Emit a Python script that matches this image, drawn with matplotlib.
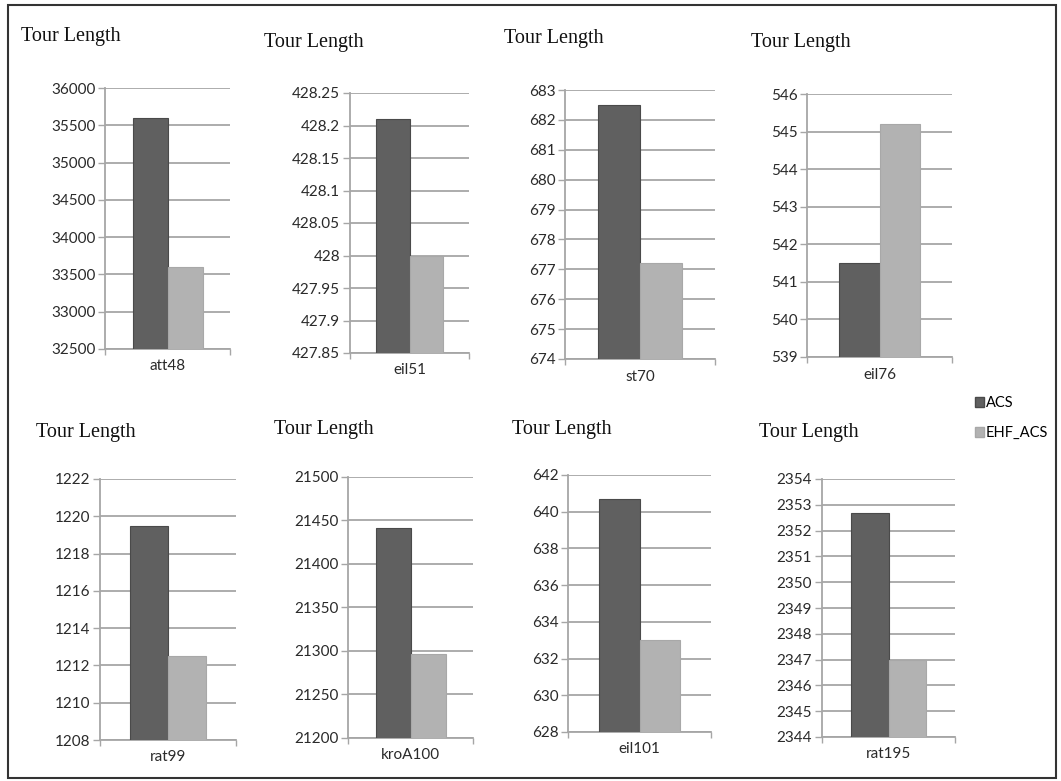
import matplotlib.pyplot as plt
from matplotlib.patches import Rectangle, Patch
from matplotlib.ticker import FixedLocator, FixedFormatter


# -----------------------------
# DATA
# -----------------------------
instances = ["att48", "eil51", "st70", "eil76", "rat99", "kroA100", "eil101", "rat195"]
acs_vals = [35600, 428.21, 682.5, 541.5, 1219.5, 21441, 640.7, 2352.7]
ehf_vals = [33600, 428.0, 677.2, 545.2, 1212.5, 21297, 633.0, 2347.0]
series_names = ["ACS", "EHF_ACS"]

ytick_vals = [
    [32500, 33000, 33500, 34000, 34500, 35000, 35500, 36000],
    [427.85, 427.9, 427.95, 428, 428.05, 428.1, 428.15, 428.2, 428.25],
    [674, 675, 676, 677, 678, 679, 680, 681, 682, 683],
    [539, 540, 541, 542, 543, 544, 545, 546],
    [1208, 1210, 1212, 1214, 1216, 1218, 1220, 1222],
    [21200, 21250, 21300, 21350, 21400, 21450, 21500],
    [628, 630, 632, 634, 636, 638, 640, 642],
    [2344, 2345, 2346, 2347, 2348, 2349, 2350, 2351, 2352, 2353, 2354],
]
ytick_labels = [
    ["32500", "33000", "33500", "34000", "34500", "35000", "35500", "36000"],
    ["427.85", "427.9", "427.95", "428", "428.05", "428.1", "428.15", "428.2", "428.25"],
    ["674", "675", "676", "677", "678", "679", "680", "681", "682", "683"],
    ["539", "540", "541", "542", "543", "544", "545", "546"],
    ["1208", "1210", "1212", "1214", "1216", "1218", "1220", "1222"],
    ["21200", "21250", "21300", "21350", "21400", "21450", "21500"],
    ["628", "630", "632", "634", "636", "638", "640", "642"],
    ["2344", "2345", "2346", "2347", "2348", "2349", "2350", "2351", "2352", "2353", "2354"],
]


# -----------------------------
# LAYOUT (pixel boxes: left, top, right, bottom; title x, y)
# -----------------------------
W, H = 1061, 781
boxes = [
    (105, 88, 230, 349), (350, 93, 469, 353), (565, 90, 715, 359), (807, 94, 952, 357),
    (100, 479, 236, 740), (348, 477, 473, 738), (568, 475, 711, 732), (822, 479, 955, 737),
]
title_pos = [(21, 36), (264, 42), (504, 38), (751, 43),
             (36, 432), (274, 430), (512, 430), (759, 432)]

col_acs = "#606060"
col_ehf = "#b2b2b2"
grid_col = "#a6a6a6"
txt_col = "#2a2a2a"

fig = plt.figure(figsize=(W / 100, H / 100), dpi=100)

for i, name in enumerate(instances):
    l, t, r, b = boxes[i]
    ax = fig.add_axes([l / W, 1 - b / H, (r - l) / W, (b - t) / H])

    ax.bar(-0.14, acs_vals[i], width=0.28, bottom=0, color=col_acs,
           edgecolor="#4a4a4a", linewidth=0.8, zorder=3)
    ax.bar(0.14, ehf_vals[i], width=0.28, bottom=0, color=col_ehf,
           edgecolor="#a8a8a8", linewidth=0.8, zorder=3)

    yt = ytick_vals[i]
    ax.set_ylim(yt[0], yt[-1])
    ax.set_xlim(-0.5, 0.5)
    ax.yaxis.set_major_locator(FixedLocator(yt))
    ax.yaxis.set_major_formatter(FixedFormatter(ytick_labels[i]))
    ax.set_xticks([-0.5, 0.5])
    ax.set_xticklabels(["", ""])
    ax.tick_params(axis="x", direction="out", length=4, color=grid_col, width=1)
    ax.tick_params(axis="y", direction="out", length=5, color=grid_col, width=1,
                   labelsize=11, labelcolor=txt_col, pad=2)
    for lab in ax.get_yticklabels():
        lab.set_family("Lato")

    ax.grid(axis="y", color=grid_col, linewidth=1.3, zorder=0)
    ax.set_axisbelow(True)
    for s in ["top", "right"]:
        ax.spines[s].set_visible(False)
    ax.spines["left"].set_color(grid_col)
    ax.spines["left"].set_linewidth(1.3)
    ax.spines["bottom"].set_color(grid_col)
    ax.spines["bottom"].set_linewidth(1.3)

    ax.text(0, -0.04, name, transform=ax.get_xaxis_transform(), ha="center",
            va="top", fontsize=11, family="Lato", color=txt_col)

    tx, ty = title_pos[i]
    fig.text(tx / W, 1 - ty / H, "Tour Length", fontsize=14.5, family="Liberation Serif",
             color="#111111", ha="left", va="center")

# legend
handles = [Patch(facecolor=col_acs, edgecolor="#4a4a4a"),
           Patch(facecolor=col_ehf, edgecolor="#a8a8a8")]
fig.legend(handles, series_names, loc="upper left",
           bbox_to_anchor=(962 / W, 1 - 383 / H), frameon=False,
           handlelength=0.6, handleheight=0.6, handletextpad=0.15,
           labelspacing=1.1, prop={"family": "Lato", "size": 10.5})

# outer frame
fig.patches.append(Rectangle((8 / W, 1 - 778 / H), 1048 / W, 773 / H,
                             transform=fig.transFigure, fill=False,
                             edgecolor="#333333", linewidth=1.5))

plt.savefig("out.png", dpi=100)
plt.close()
